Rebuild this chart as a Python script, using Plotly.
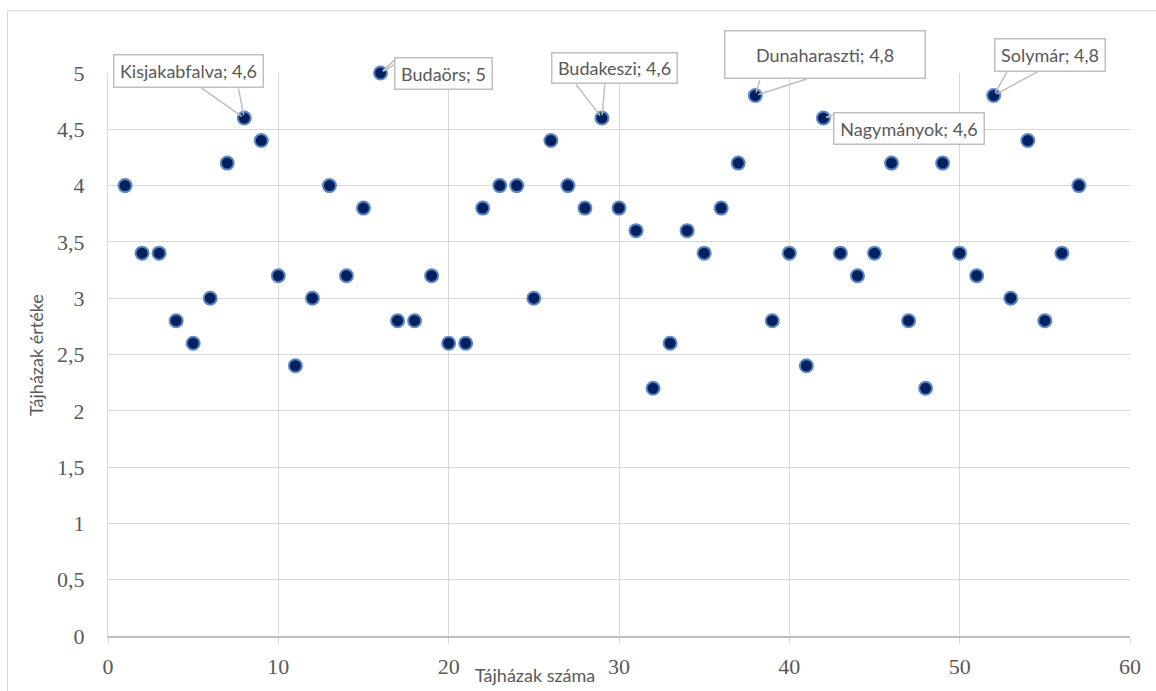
import plotly.graph_objects as go

# ---------------- data ----------------
x_vals = list(range(1, 58))
y_vals = [4.0, 3.4, 3.4, 2.8, 2.6, 3.0, 4.2, 4.6, 4.4, 3.2,
          2.4, 3.0, 4.0, 3.2, 3.8, 5.0, 2.8, 2.8, 3.2, 2.6,
          2.6, 3.8, 4.0, 4.0, 3.0, 4.4, 4.0, 3.8, 4.6, 3.8,
          3.6, 2.2, 2.6, 3.6, 3.4, 3.8, 4.2, 4.8, 2.8, 3.4,
          2.4, 4.6, 3.4, 3.2, 3.4, 4.2, 2.8, 2.2, 4.2, 3.4,
          3.2, 4.8, 3.0, 4.4, 2.8, 3.4, 4.0]

label_x = [8, 16, 29, 38, 42, 52]
label_names = ["Kisjakabfalva", "Budaörs", "Budakeszi", "Dunaharaszti", "Nagymányok", "Solymár"]

y_tickvals = [0, 0.5, 1, 1.5, 2, 2.5, 3, 3.5, 4, 4.5, 5]
y_ticktext = ["0", "0,5", "1", "1,5", "2", "2,5", "3", "3,5", "4", "4,5", "5"]
x_tickvals = [0, 10, 20, 30, 40, 50, 60]
x_ticktext = ["0", "10", "20", "30", "40", "50", "60"]

x_title = "Tájházak száma"
y_title = "Tájházak értéke"

# ---------------- callout styling (pixel offsets) ----------------
# box center offset from point (xshift right, yshift up), box size (w, h)
box_style = [
    dict(xs=-56, ys=47, w=148, h=31),
    dict(xs=63, ys=0, w=96, h=30),
    dict(xs=13, ys=50, w=124, h=29),
    dict(xs=70, ys=41, w=199, h=46),
    dict(xs=86, ys=-10, w=149, h=30),
    dict(xs=56, ys=41, w=109, h=31),
]
# wedge legs: start points relative to the marker (pixels, ay down)
legs = [
    [(-44, -31), (-6, -31)],
    [(15, -14), (15, -9)],
    [(-27, -35), (3, -35)],
    [(5, -17), (53, -17)],
    [(9, -2), (15, -5)],
    [(14, -25), (46, -25)],
]

W, H = 1156, 691
ML, MR, MT, MB = 108, 26, 73, 53
PW, PH = W - ML - MR, H - MT - MB

LABEL_FONT = dict(family="Lato", size=18, color="#595959")


def fmt(v):
    return f"{v:g}".replace(".", ",")


fig = go.Figure()
fig.add_trace(go.Scatter(
    x=x_vals, y=y_vals, mode="markers",
    marker=dict(size=13, color="#002060", line=dict(color="#5B87C5", width=2)),
    cliponaxis=False, showlegend=False, hoverinfo="x+y",
))

annotations = []
# wedge legs first
for lx, lg in zip(label_x, legs):
    ly = y_vals[x_vals.index(lx)]
    for ax, ay in lg:
        annotations.append(dict(
            x=lx, y=ly, xref="x", yref="y", text="", showarrow=True,
            ax=ax, ay=ay, arrowhead=0, arrowwidth=1.5, arrowcolor="#BFBFBF",
            standoff=3,
        ))
# boxes
for lx, name, st in zip(label_x, label_names, box_style):
    ly = y_vals[x_vals.index(lx)]
    annotations.append(dict(
        x=lx, y=ly, xref="x", yref="y", text=f"{name}; {fmt(ly)}",
        showarrow=False, xshift=st["xs"], yshift=st["ys"],
        xanchor="center", yanchor="middle",
        width=st["w"], height=st["h"], align="center", valign="middle",
        bgcolor="white", bordercolor="#BFBFBF", borderwidth=1.5, borderpad=0,
        font=LABEL_FONT,
    ))
# axis titles
annotations.append(dict(
    x=(535 - ML) / PW, y=(MT + PH - 677) / PH, xref="paper", yref="paper",
    text=x_title, showarrow=False, xanchor="center", yanchor="middle",
    font=LABEL_FONT,
))
annotations.append(dict(
    x=(36 - ML) / PW, y=(MT + PH - 356) / PH, xref="paper", yref="paper",
    text=y_title, showarrow=False, textangle=-90, xanchor="center", yanchor="middle",
    font=LABEL_FONT,
))

shapes = [dict(
    type="rect", xref="paper", yref="paper",
    x0=(7.5 - ML) / PW, x1=(1160 - ML) / PW,
    y0=(MT + PH - 700) / PH, y1=(MT + PH - 10.5) / PH,
    line=dict(color="#D9D9D9", width=1), fillcolor="rgba(0,0,0,0)", layer="below",
)]

fig.update_layout(
    width=W, height=H,
    margin=dict(l=ML, r=MR, t=MT, b=MB),
    paper_bgcolor="white", plot_bgcolor="white",
    annotations=annotations, shapes=shapes,
    showlegend=False,
)
fig.update_xaxes(
    range=[0, 60], tickvals=x_tickvals, ticktext=x_ticktext,
    showgrid=True, gridcolor="#D9D9D9", gridwidth=1,
    zeroline=False, showline=True, linecolor="#BFBFBF", linewidth=1.5,
    ticks="outside", ticklen=6, tickcolor="#D9D9D9", tickwidth=1,
    ticklabelstandoff=4,
    tickfont=dict(family="Liberation Serif", size=22, color="#595959"),
    mirror=False,
)
fig.update_yaxes(
    range=[0, 5], tickvals=y_tickvals, ticktext=y_ticktext,
    showgrid=True, gridcolor="#D9D9D9", gridwidth=1,
    zeroline=False, showline=True, linecolor="#D9D9D9", linewidth=1,
    ticks="outside", ticklen=12, tickcolor="rgba(0,0,0,0)",
    ticklabelstandoff=6,
    tickfont=dict(family="Liberation Serif", size=22, color="#595959"),
)

fig.write_html("out.html")
